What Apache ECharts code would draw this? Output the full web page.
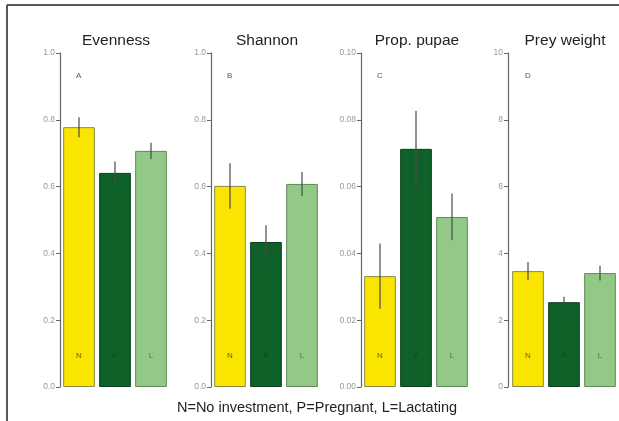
<!DOCTYPE html>
<html>
<head>
<meta charset="utf-8">
<script src="https://cdn.jsdelivr.net/npm/echarts@6/dist/echarts.min.js"></script>
<style>html,body{margin:0;padding:0;background:#fff;}#c{width:619px;height:421px;}</style>
</head>
<body>
<div id="c"></div>
<script>
// ---- data ----
const categories = ['N', 'P', 'L'];
const panelTitles = ['Evenness', 'Shannon', 'Prop. pupae', 'Prey weight'];
const panelLetters = ['A', 'B', 'C', 'D'];
const evennessMean = [0.778, 0.641, 0.707];
const evennessErr = [0.030, 0.034, 0.024];
const shannonMean = [0.602, 0.434, 0.608];
const shannonErr = [0.068, 0.050, 0.036];
const pupaeMean = [0.0332, 0.0713, 0.0509];
const pupaeErr = [0.0098, 0.0114, 0.0070];
const preyMean = [3.47, 2.54, 3.41];
const preyErr = [0.27, 0.16, 0.22];
const axisMax = [1.0, 1.0, 0.10, 10];
const axisInterval = [0.2, 0.2, 0.02, 2];
const tickDecimals = [1, 1, 2, 0];
const footnote = 'N=No investment, P=Pregnant, L=Lactating';

const means = [evennessMean, shannonMean, pupaeMean, preyMean];
const errs = [evennessErr, shannonErr, pupaeErr, preyErr];

const barColors = ['#FAE500', '#0E6229', '#93C987'];
const barBorders = ['#8c8a4a', '#0a3d1a', '#5f8a58'];
const labelColors = ['#6a6000', '#0a4a1e', '#4a7a40'];

const gridLefts = [61, 212, 362, 510];
const axisOffsets = [1, 1, 1, 2];
const gridW = 108;

const chart = echarts.init(document.getElementById('c'), null, {renderer: 'canvas'});

const grids = [], xAxes = [], yAxes = [], series = [], titles = [];
for (let i = 0; i < 4; i++) {
  grids.push({left: gridLefts[i], top: 53, width: gridW, height: 334});
  xAxes.push({type: 'category', gridIndex: i, data: categories, show: false});
  const dec = tickDecimals[i];
  yAxes.push({
    type: 'value', gridIndex: i, min: 0, max: axisMax[i], interval: axisInterval[i],
    offset: axisOffsets[i],
    axisLine: {show: true, lineStyle: {color: '#666', width: 1.2}},
    axisTick: {show: true, length: 4, lineStyle: {color: '#666'}},
    splitLine: {show: false},
    axisLabel: {fontSize: 8.5, color: '#999', margin: 5, fontFamily: 'Liberation Sans',
      formatter: v => v.toFixed(dec)}
  });
  series.push({
    type: 'bar', xAxisIndex: i, yAxisIndex: i, barWidth: '88%',
    data: means[i].map((v, k) => ({
      value: v,
      itemStyle: {color: barColors[k], borderColor: barBorders[k], borderWidth: 1},
      label: {show: true, position: 'insideBottom', distance: 27, formatter: categories[k],
        fontSize: 8, color: labelColors[k], fontFamily: 'Liberation Sans'}
    }))
  });
  const m = means[i], e = errs[i];
  series.push({
    type: 'custom', xAxisIndex: i, yAxisIndex: i, z: 10,
    data: m.map((v, k) => [k, v - e[k], v + e[k]]),
    renderItem: (params, api) => {
      const lo = api.coord([api.value(0), api.value(1)]);
      const hi = api.coord([api.value(0), api.value(2)]);
      return {type: 'line', shape: {x1: lo[0], y1: lo[1], x2: hi[0], y2: hi[1]},
        style: {stroke: '#4a4a4a', lineWidth: 1.2}};
    }
  });
  titles.push({text: panelTitles[i], left: gridLefts[i] + gridW / 2 - 4, top: 28, textAlign: 'center',
    textStyle: {fontSize: 15.5, fontWeight: 'normal', color: '#222', fontFamily: 'Liberation Sans'}});
  titles.push({text: panelLetters[i], left: gridLefts[i] + 10, top: 67,
    textStyle: {fontSize: 8, fontWeight: 'normal', color: '#555', fontFamily: 'Liberation Sans'}});
}
titles.push({text: footnote, left: 312, top: 395, textAlign: 'center',
  textStyle: {fontSize: 14.5, fontWeight: 'normal', color: '#222', fontFamily: 'Liberation Sans'}});

chart.setOption({
  animation: false,
  backgroundColor: '#fff',
  title: titles,
  grid: grids,
  xAxis: xAxes,
  yAxis: yAxes,
  series: series,
  graphic: [
    {type: 'line', shape: {x1: 7, y1: 5, x2: 619, y2: 5}, style: {stroke: '#222', lineWidth: 1.5}},
    {type: 'line', shape: {x1: 7, y1: 5, x2: 7, y2: 421}, style: {stroke: '#222', lineWidth: 1.5}}
  ]
});
</script>
</body>
</html>
